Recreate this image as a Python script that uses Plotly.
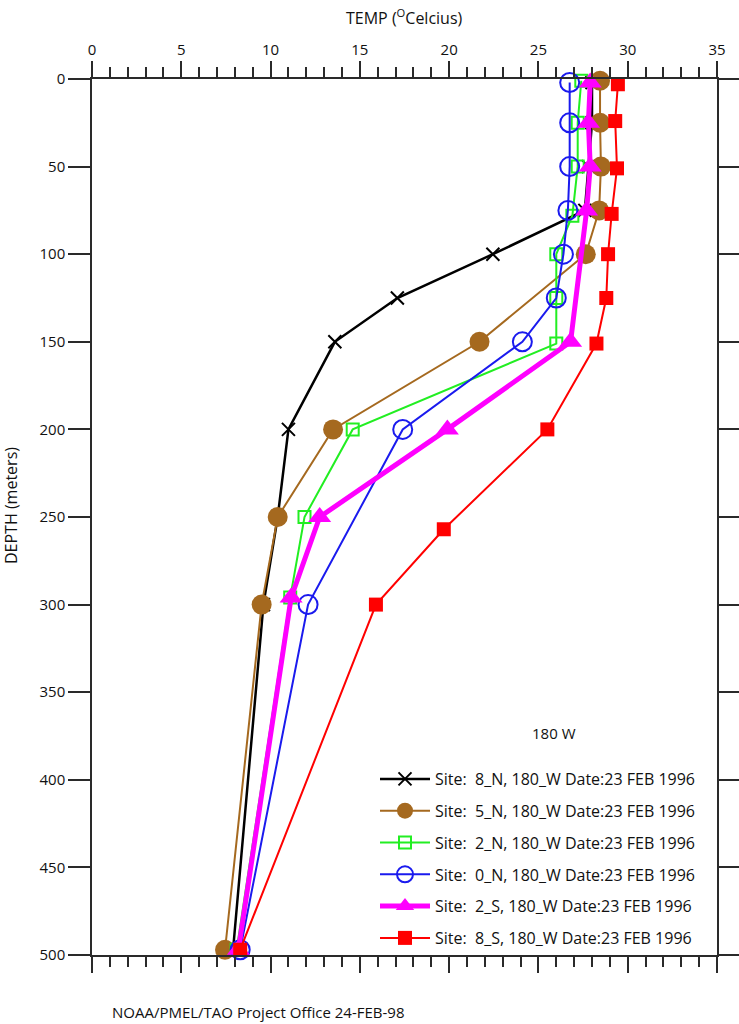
import plotly.graph_objects as go

# ---- data ----
depth_8N = [2, 25, 50, 75, 100, 125, 150, 200, 250, 300, 497]
temp_8N = [28.0, 28.0, 27.8, 27.6, 22.45, 17.1, 13.6, 11.0, 10.4, 9.6, 7.9]

depth_5N = [1, 25, 50, 75, 100, 150, 200, 250, 300, 497]
temp_5N = [28.45, 28.45, 28.5, 28.4, 27.65, 21.7, 13.5, 10.4, 9.5, 7.45]

depth_2N = [1, 25, 50, 78, 100, 125, 151, 200, 250, 296, 497]
temp_2N = [27.4, 27.2, 27.2, 26.9, 26.0, 26.0, 26.0, 14.6, 11.9, 11.1, 8.1]

depth_0N = [2, 25, 50, 75, 100, 125, 150, 200, 300, 497]
temp_0N = [26.75, 26.75, 26.75, 26.65, 26.4, 26.0, 24.1, 17.4, 12.1, 8.3]

depth_2S = [2, 25, 50, 75, 150, 200, 250, 296, 497]
temp_2S = [27.9, 27.8, 27.9, 27.7, 26.8, 19.9, 12.75, 11.15, 8.2]

depth_8S = [3, 24, 51, 77, 100, 125, 151, 200, 257, 300, 497]
temp_8S = [29.45, 29.3, 29.4, 29.1, 28.9, 28.8, 28.25, 25.5, 19.7, 15.9, 8.3]

site_names = [
    "Site:  8_N, 180_W Date:23 FEB 1996",
    "Site:  5_N, 180_W Date:23 FEB 1996",
    "Site:  2_N, 180_W Date:23 FEB 1996",
    "Site:  0_N, 180_W Date:23 FEB 1996",
    "Site:  2_S, 180_W Date:23 FEB 1996",
    "Site:  8_S, 180_W Date:23 FEB 1996",
]

x_ticks = [0, 5, 10, 15, 20, 25, 30, 35]
y_ticks = [0, 50, 100, 150, 200, 250, 300, 350, 400, 450, 500]

FONT = "Open Sans"
AXC = "#2a2a2a"

series = [
    (temp_8N, depth_8N, "#000000", 2.5, dict(symbol="x-thin-open", size=13, line=dict(width=2, color="#000000"))),
    (temp_5N, depth_5N, "#a5691f", 2, dict(symbol="circle", size=20, color="#a5691f")),
    (temp_2N, depth_2N, "#22ee22", 2, dict(symbol="square-open", size=12, line=dict(width=2, color="#22ee22"))),
    (temp_0N, depth_0N, "#1a1aee", 2, dict(symbol="circle-open", size=19, line=dict(width=2, color="#1a1aee"))),
    (temp_2S, depth_2S, "#ff00ff", 5, dict(symbol="triangle-up", size=20, color="#ff00ff")),
    (temp_8S, depth_8S, "#ff0000", 2, dict(symbol="square", size=14, color="#ff0000")),
]

fig = go.Figure()
for i, (t, d, c, lw, mk) in enumerate(series):
    fig.add_trace(go.Scatter(
        x=t, y=d, mode="lines+markers", name=site_names[i],
        line=dict(color=c, width=lw), marker=mk,
        legendgroup=f"g{i}", cliponaxis=False,
    ))

fig.update_layout(
    width=739, height=1024,
    margin=dict(l=92, r=22, t=79, b=69, autoexpand=False),
    paper_bgcolor="white", plot_bgcolor="white",
    font=dict(family=FONT, size=15, color="#111111"),
    showlegend=True,
    legend=dict(
        x=(375 - 92) / 625, y=(955 - 762) / 876, xanchor="left", yanchor="top",
        bgcolor="rgba(0,0,0,0)", borderwidth=0,
        font=dict(family=FONT, size=16, color="#111111"),
        itemwidth=50, tracegroupgap=8, itemsizing="trace",
    ),
    xaxis=dict(
        side="top", range=[0, 35], tickvals=x_ticks, ticktext=[str(v) for v in x_ticks],
        ticks="outside", ticklen=16, tickwidth=1.5, tickcolor=AXC,
        showline=True, linecolor=AXC, linewidth=1.5, mirror="ticks",
        showgrid=False, zeroline=False, automargin=False,
        minor=dict(dtick=1, ticks="outside", ticklen=10, tickwidth=1.5, tickcolor=AXC, showgrid=False),
        tickfont=dict(family=FONT, size=15), fixedrange=True,
    ),
    yaxis=dict(
        range=[500, 0], tickvals=y_ticks, ticktext=[str(v) for v in y_ticks],
        ticks="outside", ticklen=22, tickwidth=1.5, tickcolor=AXC,
        showline=True, linecolor=AXC, linewidth=1.5, mirror="ticks",
        showgrid=False, zeroline=False, automargin=False,
        tickfont=dict(family=FONT, size=15), fixedrange=True,
    ),
    annotations=[
        dict(text="TEMP (<sup>O</sup>Celcius)", xref="paper", yref="paper",
             x=(404 - 92) / 625, y=1 + (79 - 17) / 876, showarrow=False,
             xanchor="center", yanchor="middle", font=dict(size=16)),
        dict(text="DEPTH (meters)", xref="paper", yref="paper",
             x=-(92 - 11) / 625, y=(955 - 506) / 876, showarrow=False, textangle=-90,
             xanchor="center", yanchor="middle", font=dict(size=16)),
        dict(text="180 W", xref="paper", yref="paper",
             x=(554 - 92) / 625, y=(955 - 733) / 876, showarrow=False,
             xanchor="center", yanchor="middle", font=dict(size=15)),
        dict(text="NOAA/PMEL/TAO Project Office 24-FEB-98", xref="paper", yref="paper",
             x=(110 - 92) / 625, y=-(1012 - 955) / 876, showarrow=False,
             xanchor="left", yanchor="middle", font=dict(size=15)),
    ],
)

fig.write_html(
    "out.html",
    config={"displayModeBar": False},
    post_script="document.body.style.margin='0';document.body.style.overflow='hidden';",
)
